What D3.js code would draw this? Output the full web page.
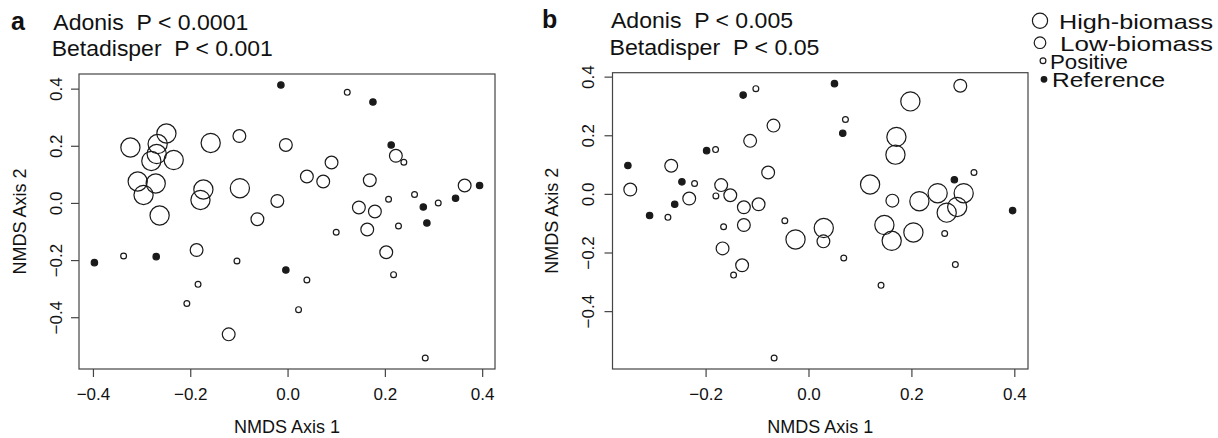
<!DOCTYPE html>
<meta charset="utf-8">
<script src="https://cdn.jsdelivr.net/npm/d3@7"></script>
<style>
  body { margin: 0; background: #fff; }
  text { font-family: "Liberation Sans", Arial, sans-serif; fill: #111; }
</style>
<body>
<script>

var width = 1218
var height = 438

// panel a : NMDS scores [axis1, axis2]
var aHigh = [[-0.323,0.194],[-0.249,0.243],[-0.267,0.206],[-0.269,0.171],[-0.280,0.147],[-0.234,0.150],[-0.158,0.210],
             [-0.308,0.075],[-0.271,0.068],[-0.296,0.028],[-0.173,0.047],[-0.179,0.0105],[-0.098,0.0515],[-0.263,-0.044]]
var aLow  = [[-0.099,0.234],[-0.0035,0.203],[-0.021,0.007],[-0.062,-0.057],[-0.187,-0.165],[-0.121,-0.460],[0.2226,0.165],
             [0.0904,0.1415],[0.0397,0.0925],[0.0733,0.075],[0.169,0.0795],[0.364,0.061],[0.1466,-0.016],[0.1795,-0.030],
             [0.1638,-0.093],[0.2028,-0.1727]]
var aPos  = [[-0.337,-0.186],[-0.104,-0.203],[-0.184,-0.285],[-0.207,-0.352],[0.1227,0.387],[0.239,0.1425],[0.2076,0.013],
             [0.261,0.0294],[0.3097,0.0],[0.228,-0.0805],[0.100,-0.1026],[0.2179,-0.251],[0.0397,-0.2697],[0.0226,-0.3735],[0.283,-0.543]]
var aRef  = [[-0.0137,0.413],[-0.397,-0.209],[-0.270,-0.188],[-0.0035,-0.235],[0.1755,0.353],[0.213,0.203],[0.3947,0.061],
             [0.3453,0.0165],[0.279,-0.014],[0.2864,-0.070]]

// panel b
var bHigh = [[-0.0252,-0.1555],[0.198,0.3156],[0.1709,0.1944],[0.169,0.1338],[0.1197,0.032],[0.251,0.0023],[0.3016,0.0023],
             [0.2155,-0.025],[0.289,-0.0446],[0.2686,-0.064],[0.0297,-0.1166],[0.1475,-0.1063],[0.2039,-0.1315],[0.1617,-0.160]]
var bLow  = [[-0.068,0.233],[-0.1134,0.181],[-0.2668,0.096],[-0.0784,0.073],[-0.1697,0.030],[-0.3464,0.0148],[-0.152,-0.0046],
             [-0.2318,-0.016],[-0.097,-0.0355],[-0.1256,-0.0457],[-0.1256,-0.1063],[-0.167,-0.186],[-0.129,-0.2436],[0.295,0.369],
             [0.163,-0.023],[0.029,-0.162]]
var bPos  = [[-0.1023,0.359],[-0.1806,0.151],[-0.2214,0.0353],[-0.180,-0.0069],[-0.2732,-0.080],[-0.046,-0.0915],[-0.165,-0.112],
             [-0.1456,-0.277],[-0.0668,-0.560],[0.0718,0.254],[0.3216,0.073],[0.2647,-0.135],[0.0685,-0.2185],[0.2854,-0.2413],[0.141,-0.312]]
var bRef  = [[-0.127,0.337],[-0.198,0.1475],[-0.351,0.097],[-0.246,0.041],[-0.260,-0.0355],[-0.3088,-0.074],[0.0505,0.376],
             [0.0666,0.207],[0.2835,0.048],[0.3967,-0.057]]

var groups = ["High-biomass", "Low-biomass", "Positive", "Reference"]
var xTicksA = [-0.4, -0.2, 0.0, 0.2, 0.4]
var xTicksB = [-0.2, 0.0, 0.2, 0.4]
var yTicks = [-0.4, -0.2, 0.0, 0.2, 0.4]

// marker styles per group
var rad = {"High-biomass": 9.6, "Low-biomass": 6.4, "Positive": 2.9, "Reference": 3.2}
var legRad = {"High-biomass": 7.6, "Low-biomass": 5.8, "Positive": 2.9, "Reference": 2.8}
var ink = "#1a1a1a"

var svg = d3.select("body").append("svg")
            .attr("width", width)
            .attr("height", height)

// R style range: data range padded by 4%
function rPad(vals) {
  var e = d3.extent(vals), p = (e[1] - e[0]) * 0.04
  return [e[0] - p, e[1] + p]
}

function drawPanel(cfg) {
  var all = [].concat(cfg.sets[0], cfg.sets[1], cfg.sets[2], cfg.sets[3])
  var x = d3.scaleLinear().domain(rPad(all.map(d => d[0]))).range([cfg.left, cfg.right])
  var y = d3.scaleLinear().domain(rPad(all.map(d => d[1]))).range([cfg.bottom, cfg.top])

  var g = svg.append("g")

  var xa = g.append("g")
      .attr("transform", "translate(0," + cfg.bottom + ")")
      .call(d3.axisBottom(x).tickValues(cfg.xTicks).tickSize(8).tickPadding(11).tickFormat(d3.format(".1f")))
  xa.select(".domain").remove()
  xa.selectAll("line").attr("stroke", "#444").attr("stroke-width", 1.2)
  xa.selectAll("text").style("font-size", "17px").attr("fill", "#111")

  var ya = g.append("g")
      .attr("transform", "translate(" + cfg.left + ",0)")
      .call(d3.axisLeft(y).tickValues(yTicks).tickSize(8).tickFormat(d3.format(".1f")))
  ya.select(".domain").remove()
  ya.selectAll("line").attr("stroke", "#444").attr("stroke-width", 1.2)
  ya.selectAll("text")
    .style("font-size", "17px").attr("fill", "#111")
    .attr("x", 0).attr("dy", 0)
    .attr("text-anchor", "middle")
    .attr("transform", "translate(" + cfg.yLabGap + ",0) rotate(-90)")

  g.append("rect")
   .attr("x", cfg.left).attr("y", cfg.top)
   .attr("width", cfg.right - cfg.left).attr("height", cfg.bottom - cfg.top)
   .attr("fill", "none").attr("stroke", "#444").attr("stroke-width", 1.2)

  groups.forEach(function(name, i) {
    g.append("g").selectAll("circle")
     .data(cfg.sets[i])
     .enter().append("circle")
     .attr("cx", d => x(d[0]))
     .attr("cy", d => y(d[1]))
     .attr("r", rad[name])
     .attr("fill", name == "Reference" ? ink : "none")
     .attr("stroke", ink)
     .attr("stroke-width", 1.2)
  })

  g.append("text")
   .attr("x", (cfg.left + cfg.right) / 2).attr("y", 433)
   .attr("text-anchor", "middle").style("font-size", "18px")
   .text("NMDS Axis 1")

  g.append("text")
   .attr("transform", "translate(" + cfg.yTitleX + "," + (cfg.top + cfg.bottom) / 2 + ") rotate(-90)")
   .attr("text-anchor", "middle").style("font-size", "18px")
   .text("NMDS Axis 2")

  g.append("text")
   .attr("x", cfg.tagX).attr("y", cfg.headY1)
   .style("font-size", "25px").style("font-weight", "bold")
   .text(cfg.tag)

  // the header text in the figure is a little wider than Arial, so fit it to its width
  g.append("text")
   .attr("x", cfg.headX).attr("y", cfg.headY1)
   .style("font-size", "21.5px").style("white-space", "pre")
   .attr("textLength", cfg.headW1).attr("lengthAdjust", "spacingAndGlyphs")
   .text(cfg.head1)

  g.append("text")
   .attr("x", cfg.headX - 1.5).attr("y", cfg.headY2)
   .style("font-size", "21.5px").style("white-space", "pre")
   .attr("textLength", cfg.headW2).attr("lengthAdjust", "spacingAndGlyphs")
   .text(cfg.head2)
}

drawPanel({
  sets: [aHigh, aLow, aPos, aRef], xTicks: xTicksA,
  left: 79, right: 495, top: 74, bottom: 369,
  yLabGap: -17, yTitleX: 26,
  tag: "a", tagX: 11, headX: 53.3, headY1: 30, headY2: 56,
  head1: "Adonis  P < 0.0001", head2: "Betadisper  P < 0.001",
  headW1: 195, headW2: 221
})

drawPanel({
  sets: [bHigh, bLow, bPos, bRef], xTicks: xTicksB,
  left: 612.5, right: 1028, top: 72.7, bottom: 369,
  yLabGap: -19, yTitleX: 558,
  tag: "b", tagX: 542, headX: 611, headY1: 27.5, headY2: 55,
  head1: "Adonis  P < 0.005", head2: "Betadisper  P < 0.05",
  headW1: 182, headW2: 210
})

// legend
var legY = [20.7, 42.7, 60.7, 79.3]
var legCx = [1040, 1040, 1043, 1044]
var legTx = [1059, 1060, 1050, 1052]
var legW = [154, 153, 78, 113]

var leg = svg.append("g").selectAll("g")
             .data(groups)
             .enter().append("g")

leg.append("circle")
   .attr("cx", (d, i) => legCx[i])
   .attr("cy", (d, i) => legY[i])
   .attr("r", d => legRad[d])
   .attr("fill", d => d == "Reference" ? ink : "none")
   .attr("stroke", ink)
   .attr("stroke-width", 1.2)

leg.append("text")
   .attr("x", (d, i) => legTx[i])
   .attr("y", (d, i) => legY[i] + 8)
   .style("font-size", "21px")
   .attr("textLength", (d, i) => legW[i]).attr("lengthAdjust", "spacingAndGlyphs")
   .text(d => d)

</script>
</body>
